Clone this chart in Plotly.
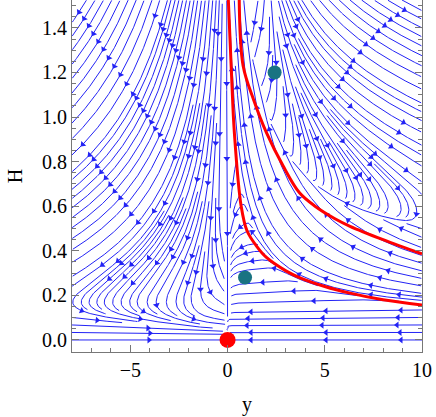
import numpy as np
import plotly.graph_objects as go

# axis ranges read from the frame
y_range = [-8.0, 10.0]
H_range = [-0.054, 1.525]

# fixed points
sink_y = [0.0]
sink_H = [0.0]
saddle_y = [0.9, 2.42]
saddle_H = [0.28, 1.20]

# red curves
c1_y = [0.04, 0.2, 0.35, 0.7, 1.0, 1.5, 2.0, 3.0, 3.7, 5.0, 6.3, 8.0, 10.0]
c1_H = [1.525, 1.2, 0.93, 0.6, 0.49, 0.42, 0.37, 0.31, 0.28, 0.24, 0.21, 0.18, 0.157]
c2_y = [0.6, 0.8, 1.33, 2.0, 2.86, 3.7, 4.5, 5.5, 6.3, 8.0, 10.0]
c2_H = [1.525, 1.23, 1.08, 0.93, 0.78, 0.66, 0.6, 0.545, 0.51, 0.45, 0.386]

# vector field parameters (estimated from the stream pattern)
H_turn = 0.17      # where left-hand streams turn back
c_H = 0.62         # decay of H on the left
c_H_right = 0.45   # decay of H on the right
k_left = 1.0
k_right = 2.5
a_low = 0.65       # (H-0.1)(y+0.45) on the inner red curve


def sig(x):
    return 1.0 / (1.0 + np.exp(-x))


def sp(x):
    return 0.5 * (x + np.sqrt(x * x + 0.1))


def field_px(y, H):
    # outer flow
    k = k_left + (k_right - k_left) * sig(y / 0.5)
    c = c_H + (c_H_right - c_H) * sig((y - 1.0) / 0.5)
    m = 0.47 + 0.9 / (0.5 + sp(y - 1.75))
    n = H_turn + sig(y / 0.4) * (m - H_turn)
    bx, by = k * y * (H - n) * ppy, -c * H * H * ppH
    # flow between the red curves, running up-left along them
    fx, fy = -(y + 0.45) * ppy, (H - 0.1) * ppH
    a = (H - 0.1) * (y + 0.45)
    U = 0.35 + 1.912 / (y + 0.757) if y > -0.7 else 9.0
    psi = sig((a - a_low) / 0.03) * sig((U - H) / 0.012) * sig((y + 0.3) / 0.05)
    bs = np.hypot(bx, by)
    fs = np.hypot(fx, fy)
    if bs < 1e-12:
        return None
    vx = (1 - psi) * bx / bs + psi * fx / fs
    vy = (1 - psi) * by / bs + psi * fy / fs
    return vx, vy


# ---- evenly spaced streamlines (screen pixels) ----
W, HT = 350.0, 352.0
ppy = W / (y_range[1] - y_range[0])
ppH = HT / (H_range[1] - H_range[0])
Y0 = -H_range[0] * ppH
d_sep = 7.5
d_test = 3.0
step = 1.0
sink_px = ((sink_y[0] - y_range[0]) * ppy, (sink_H[0] - H_range[0]) * ppH)


def to_data(X, Y):
    return y_range[0] + X / ppy, H_range[0] + Y / ppH


def direction(X, Y, sgn):
    if (X - sink_px[0]) ** 2 + (Y - sink_px[1]) ** 2 < 9:
        return None
    y, H = to_data(X, Y)
    v = field_px(y, H)
    if v is None:
        return None
    s = np.hypot(v[0], v[1])
    if s < 1e-3:
        return None
    return sgn * v[0] / s, sgn * v[1] / s


def inside(X, Y):
    return 0 <= X <= W and Y0 - 1e-9 <= Y <= HT


grid = {}


def near(X, Y, dist):
    ix, iy = int(X // d_sep), int(Y // d_sep)
    d2 = dist * dist
    for i in range(ix - 1, ix + 2):
        for j in range(iy - 1, iy + 2):
            for (px, py) in grid.get((i, j), ()):
                if (px - X) ** 2 + (py - Y) ** 2 < d2:
                    return True
    return False


def add_points(pts):
    for (px, py) in pts:
        grid.setdefault((int(px // d_sep), int(py // d_sep)), []).append((px, py))


def trace_half(X, Y, sgn):
    pts = []
    for _ in range(3000):
        d = direction(X, Y, sgn)
        if d is None:
            break
        d2 = direction(X + 0.5 * step * d[0], Y + 0.5 * step * d[1], sgn)
        if d2 is None or d2[0] * d[0] + d2[1] * d[1] < 0:
            break
        nx, ny = X + step * d2[0], Y + step * d2[1]
        if not inside(nx, ny) or near(nx, ny, d_test):
            break
        if len(pts) > 40:
            own = pts[-400:-30]
            if any((ox - nx) ** 2 + (oy - ny) ** 2 < d_test ** 2 for ox, oy in own):
                break
        pts.append((nx, ny))
        X, Y = nx, ny
    return pts


def trace(X, Y):
    back = trace_half(X, Y, -1.0)
    fwd = trace_half(X, Y, 1.0)
    return back[::-1] + [(X, Y)] + fwd


lines = []
queue = []


def try_seed(X, Y, sep):
    if not inside(X, Y) or near(X, Y, sep):
        return
    ln = trace(X, Y)
    if len(ln) < 12:
        return
    add_points(ln)
    lines.append(ln)
    queue.append(ln)


try_seed(1.0, Y0, d_sep)
try_seed(W - 1.0, Y0, d_sep)
try_seed(W * 0.3, HT * 0.7, d_sep)
qi = 0
while qi < len(queue):
    ln = queue[qi]
    qi += 1
    for i in range(0, len(ln) - 1, 3):
        x0, y0 = ln[i]
        x1, y1 = ln[i + 1]
        tx, ty = x1 - x0, y1 - y0
        tl = np.hypot(tx, ty) or 1.0
        nx, ny = -ty / tl, tx / tl
        for s in (1, -1):
            try_seed(x0 + s * d_sep * nx, y0 + s * d_sep * ny, d_sep * 0.98)
    if qi == len(queue):
        for gx in np.arange(3, W, 12):
            for gy in np.arange(Y0 + 3, HT, 12):
                try_seed(gx, gy, d_sep)

# arrowheads spaced along every streamline
arrow_gap = 75
lx, lyv, ax, ayv, ang = [], [], [], [], []
for ln in lines:
    arr = np.array(ln)
    yy, hh = to_data(arr[:, 0], arr[:, 1])
    lx += list(yy) + [None]
    lyv += list(hh) + [None]
    seg = np.hypot(np.diff(arr[:, 0]), np.diff(arr[:, 1]))
    cum = np.concatenate([[0], np.cumsum(seg)])
    total = cum[-1]
    if total < 25:
        continue
    marks = [total / 2]
    k = 1
    while total / 2 + arrow_gap * k < total - 15:
        marks += [total / 2 + arrow_gap * k, total / 2 - arrow_gap * k]
        k += 1
    for s in marks:
        i = int(np.searchsorted(cum, s))
        i = min(max(i, 1), len(arr) - 1)
        dx, dyy = arr[i, 0] - arr[i - 1, 0], arr[i, 1] - arr[i - 1, 1]
        ax.append(yy[i])
        ayv.append(hh[i])
        ang.append(float(np.degrees(np.arctan2(dx, dyy))))

blue = "rgb(35,35,245)"
fig = go.Figure()
fig.add_trace(go.Scatter(x=lx, y=lyv, mode="lines", line=dict(color=blue, width=1),
                         hoverinfo="skip", showlegend=False))
fig.add_trace(go.Scatter(x=ax, y=ayv, mode="markers",
                         marker=dict(symbol="triangle-up", size=6, color=blue, angle=ang,
                                     line=dict(width=0)),
                         hoverinfo="skip", showlegend=False))
fig.add_trace(go.Scatter(x=c1_y, y=c1_H, mode="lines", line=dict(color="red", width=3, shape="spline"),
                         showlegend=False))
fig.add_trace(go.Scatter(x=c2_y, y=c2_H, mode="lines", line=dict(color="red", width=3, shape="spline"),
                         showlegend=False))
fig.add_trace(go.Scatter(x=saddle_y, y=saddle_H, mode="markers",
                         marker=dict(size=14, color="rgb(25,115,130)"), showlegend=False))
fig.add_trace(go.Scatter(x=sink_y, y=sink_H, mode="markers",
                         marker=dict(size=16, color="red"), showlegend=False, cliponaxis=False))

axis_font = dict(family="Liberation Serif, Times New Roman, serif", size=20, color="black")
fig.update_layout(
    width=436, height=417,
    margin=dict(l=72, r=14, t=0, b=65),
    paper_bgcolor="white", plot_bgcolor="white",
    font=axis_font,
    xaxis=dict(range=y_range, tickvals=[-5, 0, 5, 10], ticks="inside", ticklen=7,
               tickcolor="#777", showline=True, linecolor="#777", linewidth=1,
               mirror=False, showgrid=False, zeroline=False, automargin=False,
               minor=dict(dtick=1, ticks="inside", ticklen=4, tickcolor="#777"),
               title=dict(text="y", font=axis_font, standoff=16)),
    yaxis=dict(range=H_range, tickvals=[0, 0.2, 0.4, 0.6, 0.8, 1.0, 1.2, 1.4], tickformat=".1f",
               ticks="inside", ticklen=7, tickcolor="#777", showline=True, linecolor="#777",
               linewidth=1, mirror="ticks", showgrid=False, zeroline=False, automargin=False,
               minor=dict(dtick=0.05, tick0=0, ticks="inside", ticklen=4, tickcolor="#777"),
               title=dict(text="H", font=axis_font, standoff=14)),
)
fig.write_html("out.html", config={"displayModeBar": False},
               post_script="document.body.style.margin='0';")
